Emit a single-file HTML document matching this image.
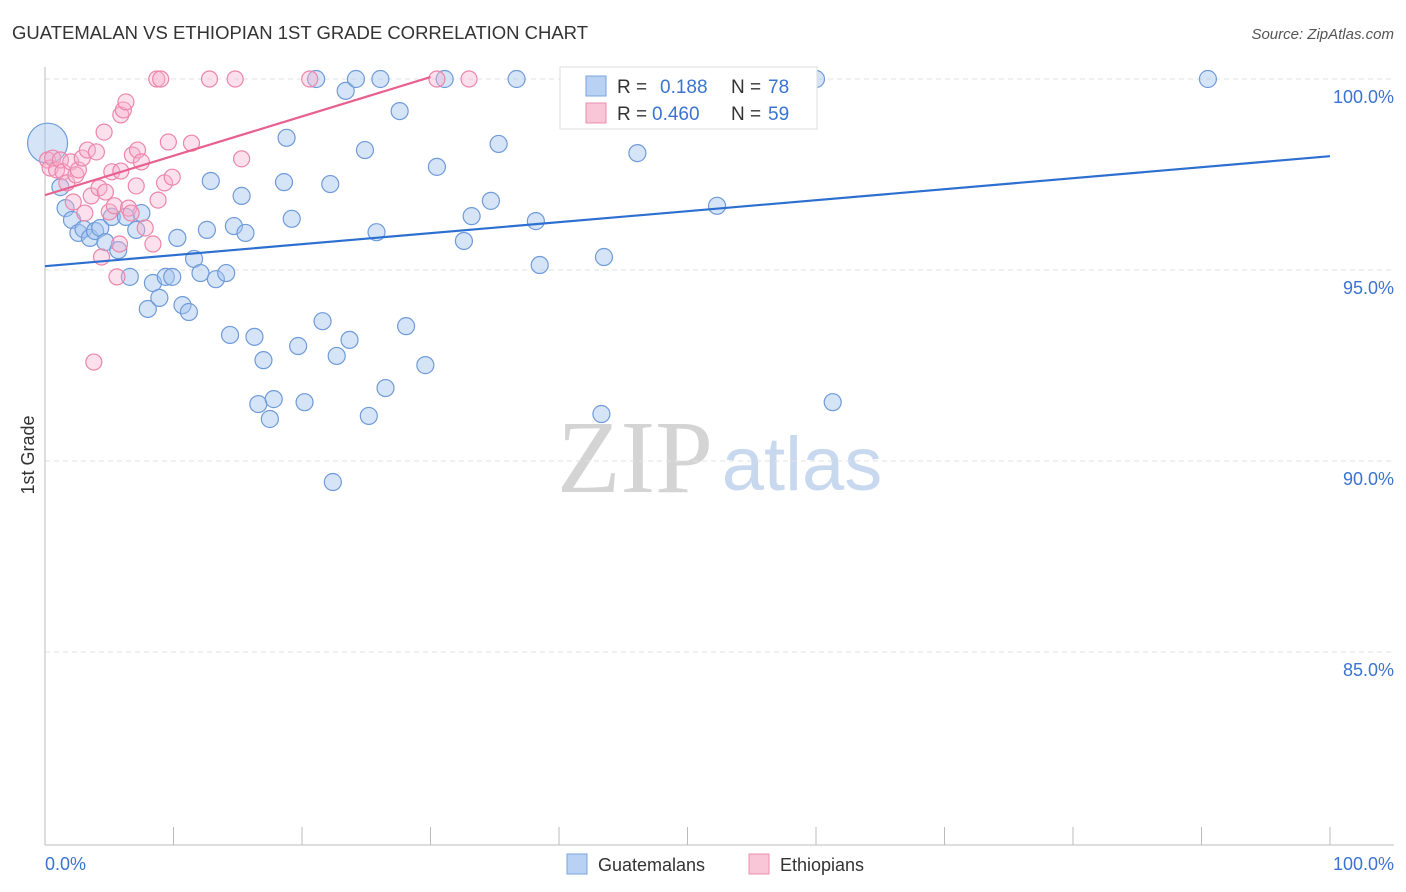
<!DOCTYPE html>
<html><head><meta charset="utf-8">
<style>
body{margin:0;background:#fff;font-family:"Liberation Sans",sans-serif;}
svg{display:block}
</style></head>
<body>
<svg id="chart" width="1406" height="892" viewBox="0 0 1406 892">
<text x="12" y="39" font-size="18" fill="#333" textLength="576" lengthAdjust="spacingAndGlyphs">GUATEMALAN VS ETHIOPIAN 1ST GRADE CORRELATION CHART</text>
<text x="1394" y="39" font-size="15" fill="#555" font-style="italic" text-anchor="end">Source: ZipAtlas.com</text>
<g>
<text x="635" y="492" font-size="104" fill="#d4d4d4" text-anchor="middle" font-family="Liberation Serif,serif">ZIP</text>
<text x="802" y="490" font-size="76" fill="#c8d9ef" text-anchor="middle">atlas</text>
</g>
<g id="grid"></g>
<g id="axes"></g>
<g id="points"></g>
<g id="lines"></g>
<text transform="translate(34,455) rotate(-90)" font-size="18" fill="#333" text-anchor="middle">1st Grade</text>
<text x="45" y="870" font-size="18" fill="#3a74d0">0.0%</text>
<text x="1394" y="870" font-size="18" fill="#3a74d0" text-anchor="end">100.0%</text>
<g>
<rect x="560" y="67" width="257" height="62" fill="#fff" stroke="#ddd"/>
<rect x="586" y="76" width="20" height="20" fill="#b9d2f3" stroke="#7aa3dc"/>
<text x="617" y="93" font-size="19" fill="#333">R = </text><text x="660" y="93" font-size="19" fill="#3a74d0">0.188</text>
<text x="731" y="93" font-size="19" fill="#333">N = </text><text x="768" y="93" font-size="19" fill="#3a74d0">78</text>
<rect x="586" y="103" width="20" height="20" fill="#f9c6d7" stroke="#ec8fb0"/>
<text x="617" y="120" font-size="19" fill="#333">R = </text><text x="652" y="120" font-size="19" fill="#3a74d0">0.460</text>
<text x="731" y="120" font-size="19" fill="#333">N = </text><text x="768" y="120" font-size="19" fill="#3a74d0">59</text>
</g>
<g>
<rect x="567" y="854" width="20" height="20" fill="#b9d2f3" stroke="#7aa3dc"/>
<text x="598" y="871" font-size="18" fill="#333">Guatemalans</text>
<rect x="749" y="854" width="20" height="20" fill="#f9c6d7" stroke="#ec8fb0"/>
<text x="780" y="871" font-size="18" fill="#333">Ethiopians</text>
</g>
</svg>
<script>
const yTicks=[100,95,90,85];
const yTickLabels=["100.0%","95.0%","90.0%","85.0%"];
const xTicks=[0,10,20,30,40,50,60,70,80,90,100];
const blueX=[0.2,1.2,1.6,2.1,2.6,3.0,3.5,3.9,4.3,4.7,5.2,5.7,6.3,6.6,7.1,7.5,8.0,8.4,8.9,9.4,9.9,10.3,10.7,11.2,11.6,12.1,12.6,12.9,13.3,14.1,14.4,14.7,15.3,15.6,16.3,16.6,17.0,17.5,17.8,18.6,18.8,19.2,19.7,20.2,21.1,21.6,22.2,22.4,22.7,23.4,23.7,24.2,24.9,25.2,25.8,26.1,26.5,27.6,28.1,29.6,30.5,31.1,32.6,33.2,34.7,35.3,36.7,38.2,38.5,43.3,43.5,46.1,52.3,58.5,60.0,61.3,90.5];
const blueY=[98.32,97.17,96.62,96.31,95.97,96.07,95.84,96.02,96.1,95.73,96.39,95.52,96.39,94.82,96.05,96.49,93.98,94.66,94.27,94.82,94.82,95.84,94.08,93.9,95.29,94.92,96.05,97.33,94.76,94.92,93.3,96.15,96.94,95.97,93.25,91.49,92.64,91.1,91.62,97.3,98.46,96.34,93.01,91.54,100,93.66,97.25,89.45,92.75,99.69,93.17,100,98.14,91.18,95.99,100,91.91,99.16,93.53,92.51,97.7,100,95.76,96.41,96.81,98.3,100,96.28,95.13,91.23,95.34,98.06,96.68,100,100,91.54,100];
const pinkX=[0.2,0.4,0.6,0.9,1.2,1.4,1.7,2.0,2.2,2.4,2.6,2.9,3.1,3.3,3.6,3.8,4.0,4.2,4.4,4.6,4.7,5.0,5.2,5.4,5.6,5.8,5.9,5.9,6.1,6.3,6.5,6.7,6.8,7.1,7.2,7.5,7.8,8.4,8.7,8.8,9.0,9.3,9.6,9.9,11.4,12.8,14.8,15.3,20.6,30.5,33.0];
const pinkY=[97.88,97.67,97.93,97.62,97.88,97.57,97.28,97.83,96.78,97.49,97.62,97.93,96.49,98.14,96.94,92.59,98.09,97.15,95.34,98.61,97.04,96.52,97.57,96.68,94.82,95.68,97.59,99.06,99.19,99.4,96.62,96.49,98.01,97.2,98.14,97.83,96.1,95.68,100,96.83,100,97.28,98.35,97.43,98.32,100,100,97.91,100,100,100];
const blueTrend=[[0,95.1],[100,97.98]];
const pinkTrend=[[0,96.96],[30,100.05]];
const NS="http://www.w3.org/2000/svg";
const X=v=>45+v*12.85;
const Y=v=>79+(100-v)*38.2;
function mk(tag,attrs,parent){const e=document.createElementNS(NS,tag);for(const k in attrs)e.setAttribute(k,attrs[k]);parent.appendChild(e);return e;}
const grid=document.getElementById('grid'),axes=document.getElementById('axes'),pts=document.getElementById('points'),lines=document.getElementById('lines');
yTicks.forEach((t,i)=>{
 const l=mk('line',{x1:45,x2:1394,y1:Y(t),y2:Y(t),stroke:'#e2e2e2','stroke-dasharray':'5,4'},grid);
 
 
 const tx=mk('text',{x:1394,y:Y(t)+24,'font-size':18,fill:'#3a74d0','text-anchor':'end'},grid);
 tx.textContent=yTickLabels[i];
 
 
});
const ya=mk('line',{x1:45,x2:45,y1:67,y2:845,stroke:'#bbb'},axes);


const xa=mk('line',{x1:45,x2:1394,y1:845,y2:845,stroke:'#bbb'},axes);


xTicks.forEach(t=>{
 const l=mk('line',{x1:X(t),x2:X(t),y1:827,y2:845,stroke:'#bbb'},axes);
 
 
});
blueX.forEach((v,i)=>{
 const c=mk('circle',{cx:X(v),cy:Y(blueY[i]),r:i===0?20:8.5,fill:'rgba(164,196,240,0.45)',stroke:'#6f9bd9','stroke-width':1.2},pts);
 
 
});
pinkX.forEach((v,i)=>{
 const c=mk('circle',{cx:X(v),cy:Y(pinkY[i]),r:8,fill:'rgba(248,178,204,0.4)',stroke:'#ec86ab','stroke-width':1.2},pts);
 
 
});
const bl=mk('line',{x1:X(blueTrend[0][0]),y1:Y(blueTrend[0][1]),x2:X(blueTrend[1][0]),y2:Y(blueTrend[1][1]),stroke:'#2d6fd1','stroke-width':2.2},lines);


const pl=mk('line',{x1:X(pinkTrend[0][0]),y1:Y(pinkTrend[0][1]),x2:X(pinkTrend[1][0]),y2:Y(pinkTrend[1][1]),stroke:'#e8608e','stroke-width':2.2},lines);


</script>
</body></html>
